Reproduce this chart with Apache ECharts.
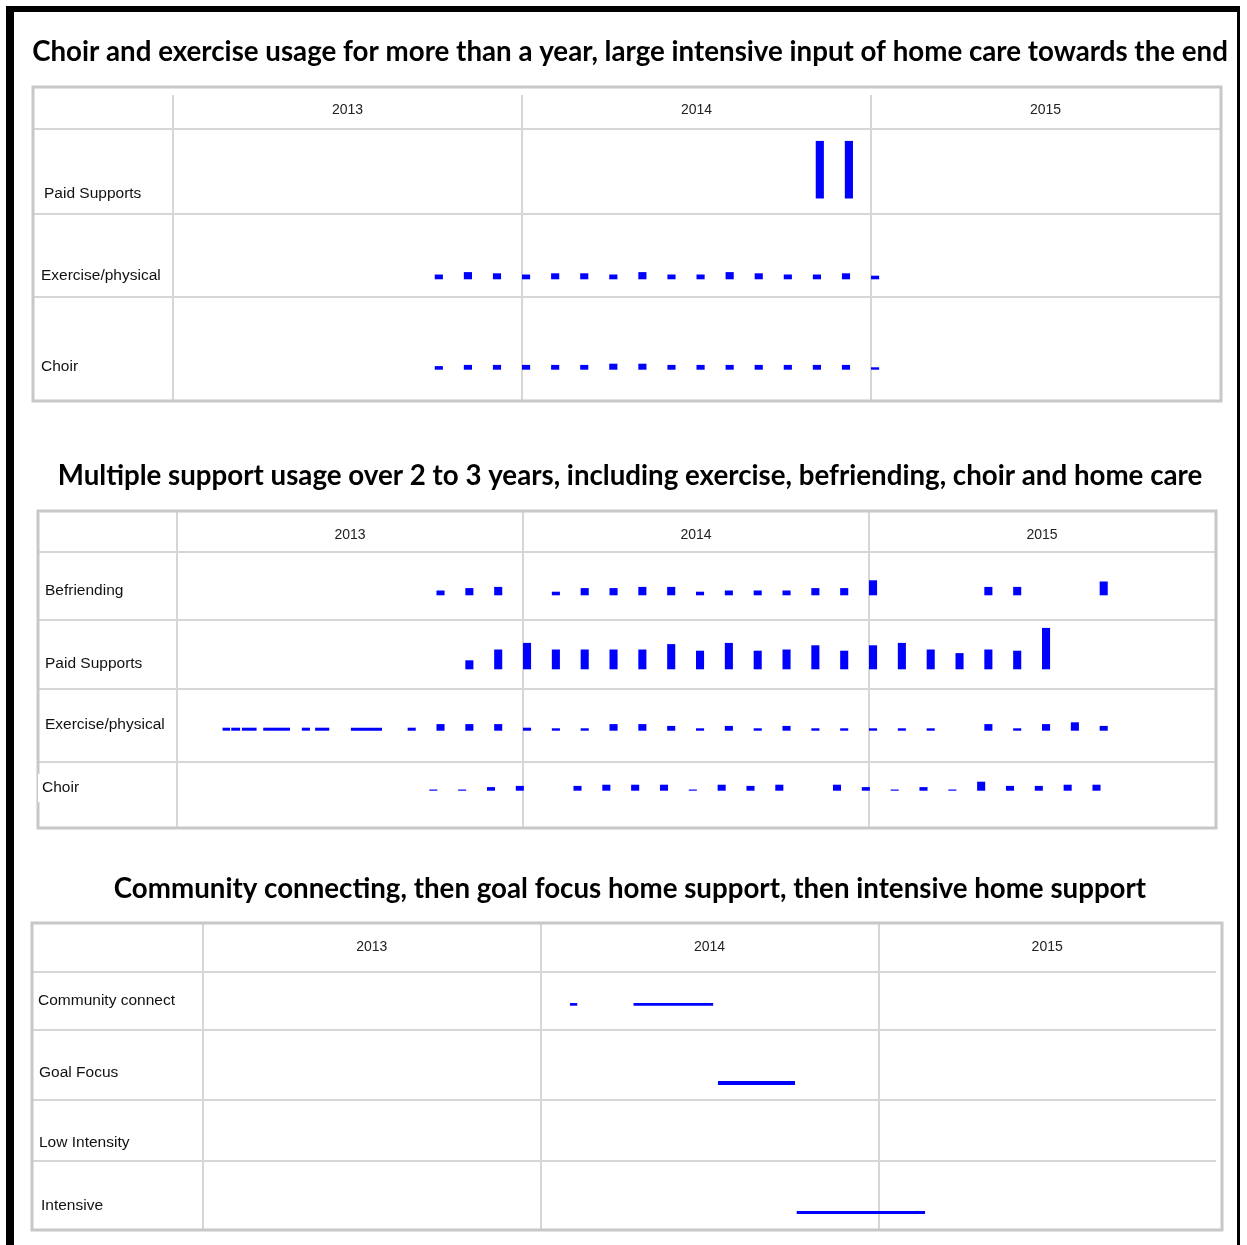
<!DOCTYPE html>
<html>
<head>
<meta charset="UTF-8">
<title>support usage</title>
<script src="https://cdn.jsdelivr.net/npm/echarts@6/dist/echarts.min.js"></script>
<style>
	html, body { margin: 0; padding: 0; background: #fff; }
	#chart { width: 1247px; height: 1245px; }
</style>
</head>
<body>
<div id="chart"></div>
<script>
// time axis: months since Jan 2013
var years = ['2013', '2014', '2015'];

var titles = [
	'Choir and exercise usage for more than a year, large intensive input of home care towards the end',
	'Multiple support usage over 2 to 3 years, including exercise, befriending, choir and home care',
	'Community connecting, then goal focus home support, then intensive home support'
];

// panel 1  -- [month, amount]
var p1Rows = ['Paid Supports', 'Exercise/physical', 'Choir'];
var p1PaidSupports = [[22.1, 48], [23.1, 48]];
var p1Exercise = [[9, 4], [10, 6], [11, 5], [12, 4], [13, 5], [14, 5], [15, 4], [16, 6], [17, 4], [18, 4],
	[19, 6], [20, 5], [21, 4], [22, 4], [23, 5], [24, 3]];
var p1Choir = [[9, 3], [10, 4], [11, 4], [12, 4], [13, 4], [14, 4], [15, 5], [16, 5], [17, 4], [18, 4],
	[19, 4], [20, 4], [21, 4], [22, 4], [23, 4], [24, 2]];

// panel 2
var p2Rows = ['Befriending', 'Paid Supports', 'Exercise/physical', 'Choir'];
var p2Befriending = [[9, 4], [10, 6], [11, 7], [13, 3], [14, 6], [15, 6], [16, 7], [17, 7], [18, 3], [19, 4],
	[20, 4], [21, 4], [22, 6], [23, 6], [24, 12.5], [28, 7], [29, 7], [32, 11.5]];
var p2PaidSupports = [[10, 7.5], [11, 16.5], [12, 22], [13, 16.5], [14, 16.5], [15, 16.5], [16, 16.5], [17, 21],
	[18, 15.5], [19, 22], [20, 15.5], [21, 16.5], [22, 20], [23, 15.5], [24, 20], [25, 22], [26, 16.5],
	[27, 13.5], [28, 16.5], [29, 15.5], [30, 34.5]];
var p2Exercise = [[8, 2.5], [9, 5.5], [10, 5.5], [11, 5.5], [12, 2.5], [13, 2], [14, 2], [15, 5.5], [16, 5.5],
	[17, 4], [18, 2], [19, 4], [20, 2], [21, 4], [22, 2], [23, 2], [24, 2], [25, 2], [26, 2], [28, 5.5],
	[29, 2], [30, 5.5], [31, 7], [32, 4]];
// weekly runs early 2013 -- [start month, end month, amount]
var p2ExerciseRuns = [[1.58, 1.84, 2.5], [1.88, 2.19, 2.5], [2.25, 2.76, 2.5], [2.99, 3.92, 2.5],
	[4.33, 4.61, 2.5], [4.79, 5.28, 2.5], [6.03, 7.11, 2.5]];
var p2Choir = [[9, 1], [10, 1], [11, 3], [12, 4], [14, 4], [15, 5], [16, 5], [17, 5], [18, 1], [19, 5],
	[20, 4], [21, 5], [23, 5], [24, 3], [25, 1], [26, 3], [27, 1], [28, 7.5], [29, 4], [30, 4], [31, 5], [32, 5]];

// panel 3 -- [start month, end month, amount]
var p3Rows = ['Community connect', 'Goal Focus', 'Low Intensity', 'Intensive'];
var p3Community = [[13.04, 13.3, 2.2], [15.3, 18.13, 2.2]];
var p3GoalFocus = [[18.3, 21.04, 3.3]];
var p3LowIntensity = [];
var p3Intensive = [[21.1, 25.66, 2.5]];

var W = 1247, H = 1245;
var MARK_W = 0.28;       // width of a monthly mark, in months
var ROW_H = 60, ROW_MAX = 50;
var BLUE = '#0000ff';
var LINE = '#d6d6d6', FRAME = '#c8c8c8';
var labelFont = 'Liberation Sans, Arial, sans-serif';

function monthly(list, shift) {
	shift = shift || 0;
	return list.map(function (d) { return [d[0] + shift, d[0] + shift + MARK_W, d[1]]; });
}

var panels = [
	{
		title: titles[0], titleY: 47,
		frame: [33, 87, 1221, 401], headerTop: 95, yearMargin: 8,
		left: 173, right: 1220, rowLines: [129, 214, 297], lineEnd: 1221,
		rows: [
			{ name: p1Rows[0], x: 44, y: 194, base: 198.5, marks: monthly(p1PaidSupports) },
			{ name: p1Rows[1], x: 41, y: 276, base: 279.3, marks: monthly(p1Exercise) },
			{ name: p1Rows[2], x: 41, y: 367, base: 369.7, marks: monthly(p1Choir) }
		]
	},
	{
		title: titles[1], titleY: 471,
		frame: [38, 511, 1216, 828], headerTop: 511, yearMargin: 17,
		left: 177, right: 1215, rowLines: [552, 620, 689, 762], lineEnd: 1216,
		rows: [
			{ name: p2Rows[0], x: 45, y: 591, base: 595.3, marks: monthly(p2Befriending) },
			{ name: p2Rows[1], x: 45, y: 664, base: 669.3, marks: monthly(p2PaidSupports) },
			{ name: p2Rows[2], x: 45, y: 725, base: 730.7, marks: p2ExerciseRuns.concat(monthly(p2Exercise)) },
			{ name: p2Rows[3], x: 42, y: 788, base: 790.7, marks: monthly(p2Choir, -0.25), whiteBg: true }
		]
	},
	{
		title: titles[2], titleY: 884,
		frame: [32, 923, 1222, 1230], headerTop: 923, yearMargin: 17,
		left: 203, right: 1216, rowLines: [972, 1030, 1100, 1161], lineEnd: 1216,
		rows: [
			{ name: p3Rows[0], x: 38, y: 1001, base: 1005.7, marks: p3Community },
			{ name: p3Rows[1], x: 39, y: 1073, base: 1085, marks: p3GoalFocus },
			{ name: p3Rows[2], x: 39, y: 1143, base: 1150, marks: p3LowIntensity },
			{ name: p3Rows[3], x: 41, y: 1206, base: 1214, marks: p3Intensive }
		]
	}
];

function renderMark(params, api) {
	var p0 = api.coord([api.value(0), 0]);
	var p1 = api.coord([api.value(1), api.value(2)]);
	return {
		type: 'rect',
		shape: { x: p0[0], y: p1[1], width: p1[0] - p0[0], height: p0[1] - p1[1] },
		style: { fill: BLUE }
	};
}

var grid = [], xAxis = [], yAxis = [], series = [], title = [];
var graphic = [
	// black page border
	{ type: 'rect', shape: { x: 6, y: 6, width: 8, height: H - 6 }, style: { fill: '#000' }, z: 10 },
	{ type: 'rect', shape: { x: 6, y: 6, width: 1234, height: 6 }, style: { fill: '#000' }, z: 10 },
	{ type: 'rect', shape: { x: 1237, y: 6, width: 3, height: H - 6 }, style: { fill: '#000' }, z: 10 }
];

panels.forEach(function (P) {
	title.push({
		text: P.title, left: 625, top: P.titleY, textAlign: 'center', textVerticalAlign: 'middle',
		textStyle: { fontFamily: 'Lato', fontWeight: 'bold', fontSize: 27.7, color: '#000' }
	});

	// header grid: year labels and year dividers
	var gi = grid.length;
	grid.push({ left: P.left, right: W - P.right, top: P.headerTop, bottom: H - P.frame[3] });
	xAxis.push({
		gridIndex: gi, type: 'category', data: years, position: 'top', boundaryGap: true,
		axisLine: { show: false }, axisTick: { show: false },
		axisLabel: { inside: true, margin: P.yearMargin, interval: 0, fontFamily: labelFont, fontSize: 14, color: '#222' },
		splitLine: { show: true, interval: 0, showMaxLine: false, lineStyle: { color: LINE, width: 2 } }
	});
	yAxis.push({ gridIndex: gi, type: 'value', show: false, min: 0, max: 1 });

	// table lines
	P.rowLines.forEach(function (y) {
		graphic.push({ type: 'line', shape: { x1: P.frame[0], y1: y, x2: P.lineEnd, y2: y },
			style: { stroke: LINE, lineWidth: 2 }, z: 1 });
	});
	graphic.push({ type: 'rect',
		shape: { x: P.frame[0], y: P.frame[1], width: P.frame[2] - P.frame[0], height: P.frame[3] - P.frame[1] },
		style: { fill: null, stroke: FRAME, lineWidth: 3 }, z: 2 });

	// one grid per row
	P.rows.forEach(function (r) {
		var ri = grid.length;
		grid.push({ left: P.left, right: W - P.right, top: r.base - ROW_H, height: ROW_H });
		xAxis.push({ gridIndex: ri, type: 'value', min: 0, max: 36, show: false });
		yAxis.push({ gridIndex: ri, type: 'value', min: 0, max: ROW_MAX, show: false });
		series.push({
			type: 'custom', name: r.name, xAxisIndex: ri, yAxisIndex: ri, z: 5,
			encode: { x: [0, 1], y: 2 },
			renderItem: renderMark, data: r.marks
		});
		var txt = {
			type: 'text', x: r.x, y: r.y, z: 3,
			style: { text: r.name, font: '15.5px ' + labelFont, fill: '#111', textVerticalAlign: 'middle' }
		};
		if (r.whiteBg) {
			txt.x = r.x - 4;
			txt.style.backgroundColor = '#fff';
			txt.style.padding = [6, 2, 6, 4];
		}
		graphic.push(txt);
	});
});

var myChart = echarts.init(document.getElementById('chart'), null, { renderer: 'canvas' });
myChart.setOption({
	animation: false,
	backgroundColor: '#fff',
	title: title,
	grid: grid,
	xAxis: xAxis,
	yAxis: yAxis,
	series: series,
	graphic: graphic
});
</script>
</body>
</html>
